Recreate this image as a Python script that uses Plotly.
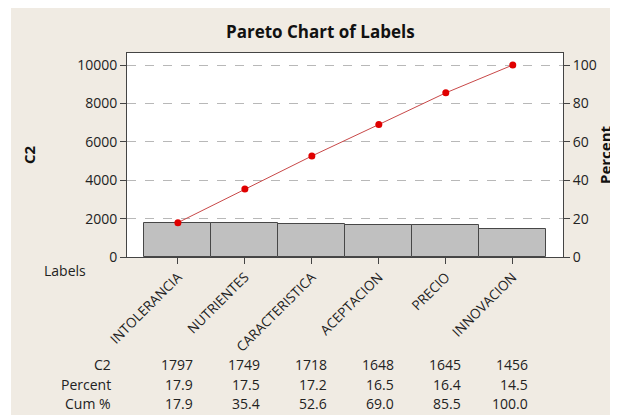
import plotly.graph_objects as go

categories = ["INTOLERANCIA", "NUTRIENTES", "CARACTERISTICA", "ACEPTACION", "PRECIO", "INNOVACION"]
counts = [1797, 1749, 1718, 1648, 1645, 1456]
percent = [17.9, 17.5, 17.2, 16.5, 16.4, 14.5]
cum_pct = [17.9, 35.4, 52.6, 69.0, 85.5, 100.0]
count_text = ["1797", "1749", "1718", "1648", "1645", "1456"]
percent_text = ["17.9", "17.5", "17.2", "16.5", "16.4", "14.5"]
cum_text = ["17.9", "35.4", "52.6", "69.0", "85.5", "100.0"]
row_labels = ["C2", "Percent", "Cum %"]
left_ticks = [0, 2000, 4000, 6000, 8000, 10000]
left_ticktext = ["0", "2000", "4000", "6000", "8000", "10000"]
right_ticks = [0, 20, 40, 60, 80, 100]

FONT = "Open Sans"
OFF = 8  # page body margin
W, H = 618 - OFF, 415 - OFF
# page coordinates of the plot area
L, R, T, B = 127, 563, 53, 257
pw, ph = R - L, B - T

def px(x):
    return (x - L) / pw

def py(y):
    return (B - y) / ph

fig = go.Figure()
fig.add_trace(go.Bar(
    x=list(range(len(categories))), y=counts, width=1.0,
    marker=dict(color="#c0c0c0", line=dict(color="#474747", width=1)),
    showlegend=False, hoverinfo="skip"))
fig.add_trace(go.Scatter(
    x=list(range(len(categories))), y=cum_pct, yaxis="y2", mode="lines+markers",
    line=dict(color="#c84848", width=1),
    marker=dict(color="#e00000", size=7),
    showlegend=False, hoverinfo="skip"))

shapes = [
    dict(type="rect", xref="paper", yref="paper", layer="below",
         x0=px(11), x1=px(640), y0=py(440), y1=py(8),
         fillcolor="#f0ebe3", line=dict(width=0)),
    dict(type="rect", xref="paper", yref="paper", layer="below",
         x0=0, x1=1, y0=0, y1=1, fillcolor="white", line=dict(width=0)),
]

txt = dict(size=14, color="#222", family=FONT)
annotations = [
    dict(text="<b>Pareto Chart of Labels</b>", xref="paper", yref="paper",
         x=px(320), y=py(32), showarrow=False, font=dict(size=17, color="#111", family=FONT),
         xanchor="center", yanchor="middle"),
    dict(text="Labels", xref="paper", yref="paper", x=px(88), y=py(270),
         showarrow=False, font=txt, xanchor="right", yanchor="middle"),
    dict(text="<b>C2</b>", xref="paper", yref="paper", x=px(29), y=py(155),
         showarrow=False, textangle=-90, font=dict(size=15, color="#111", family=FONT),
         xanchor="center", yanchor="middle"),
    dict(text="<b>Percent</b>", xref="paper", yref="paper", x=px(605), y=py(155),
         showarrow=False, textangle=-90, font=dict(size=15, color="#111", family=FONT),
         xanchor="center", yanchor="middle"),
]
rows = [count_text, percent_text, cum_text]
row_y = [364, 384, 403]
for r, (lab, vals) in enumerate(zip(row_labels, rows)):
    annotations.append(dict(text=lab, xref="paper", yref="paper", x=px(113), y=py(row_y[r]),
                            showarrow=False, xanchor="right", yanchor="middle", font=txt))
    for i, v in enumerate(vals):
        annotations.append(dict(text=v, xref="x", yref="paper",
                                x=i, xshift=17, y=py(row_y[r]),
                                showarrow=False, xanchor="right", yanchor="middle", font=txt))

fig.update_layout(
    width=W, height=H,
    margin=dict(l=L - OFF, r=618 - R, t=T - OFF, b=415 - B, pad=0),
    paper_bgcolor="white", plot_bgcolor="rgba(0,0,0,0)",
    font=dict(family=FONT, size=14, color="#222"),
    bargap=0,
    xaxis=dict(range=[-0.76, 5.75], tickmode="array",
               tickvals=list(range(len(categories))), ticktext=categories,
               tickangle=-45, ticks="outside", ticklen=6, tickcolor="#444",
               showline=True, linecolor="#444", linewidth=1, mirror=True,
               showgrid=False, zeroline=False, tickfont=dict(size=13.5, family=FONT, color="#222")),
    yaxis=dict(range=[0, 10625], tickmode="array", tickvals=left_ticks, ticktext=left_ticktext,
               ticks="outside", ticklen=6, tickcolor="#444",
               showline=True, linecolor="#444", linewidth=1,
               showgrid=True, gridcolor="#b8b8b8", griddash="dash", gridwidth=1,
               zeroline=False, tickfont=dict(size=14, family=FONT, color="#222")),
    yaxis2=dict(range=[0, 106.25], overlaying="y", side="right",
                tickmode="array", tickvals=right_ticks,
                ticks="outside", ticklen=6, tickcolor="#444",
                showline=True, linecolor="#444", linewidth=1,
                showgrid=False, zeroline=False, tickfont=dict(size=14, family=FONT, color="#222")),
    shapes=shapes, annotations=annotations,
)

fig.write_html("out.html")
